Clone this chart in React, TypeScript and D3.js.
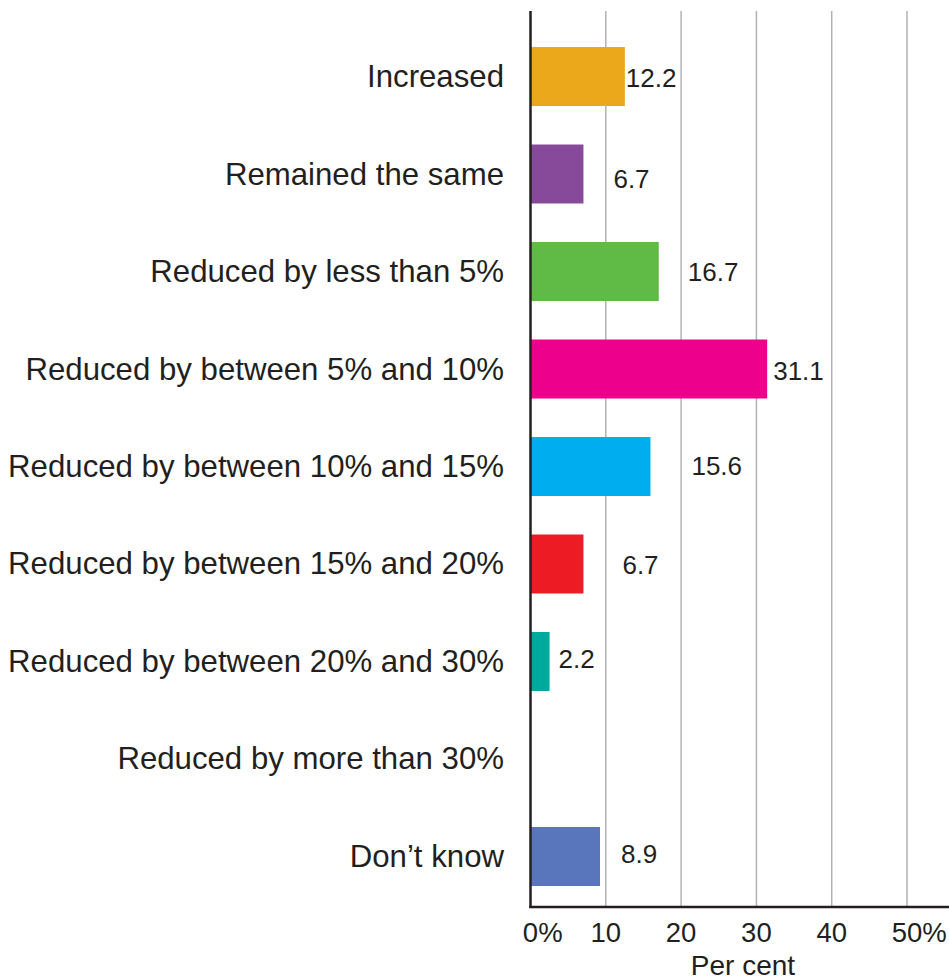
import React from "react";
import * as d3 from "d3";

const categories = [
  "Increased",
  "Remained the same",
  "Reduced by less than 5%",
  "Reduced by between 5% and 10%",
  "Reduced by between 10% and 15%",
  "Reduced by between 15% and 20%",
  "Reduced by between 20% and 30%",
  "Reduced by more than 30%",
  "Don\u2019t know",
];
const values = [12.2, 6.7, 16.7, 31.1, 15.6, 6.7, 2.2, 0, 8.9];
const colors = [
  "#eca81b",
  "#874a9b",
  "#5fba46",
  "#ec008c",
  "#00aeef",
  "#ed1c24",
  "#00a99d",
  "#999999",
  "#5975bb",
];
const tickValues = [0, 10, 20, 30, 40, 50];
const xTitle = "Per cent";
// label nudges (style only)
const labelDx = [1, 30, 29, 6, 41, 39, 9, 0, 21];
const labelDy = [10, 14, 9, 10.5, 8, 10, 6.5, 0, 7];

const W = 949;
const H = 978;
const FONT = "'Liberation Sans', Arial, Helvetica, sans-serif";
const INK = "#231f20";

export default function App() {
  const x = d3.scaleLinear().domain([0, 50]).range([530.5, 907]);
  const y = d3
    .scaleBand<string>()
    .domain(categories)
    .range([8.5, 924.5])
    .paddingInner(0.395)
    .paddingOuter(0.395);
  const axisTop = 11;
  const axisBottom = 907;

  return (
    <svg
      width={W}
      height={H}
      style={{ position: "absolute", left: 0, top: 0, background: "#fff" }}
      fontFamily={FONT}
    >
      {tickValues
        .filter((t) => t > 0)
        .map((t) => (
          <line
            key={"g" + t}
            x1={x(t)}
            x2={x(t)}
            y1={axisTop}
            y2={axisBottom}
            stroke="#b2b2b2"
            strokeWidth={1.5}
          />
        ))}
      {categories.map((c, i) => (
        <rect
          key={"b" + i}
          x={x(0)}
          y={y(c)}
          width={values[i] > 0 ? x(values[i]) - x(0) + 2.5 : 0}
          height={y.bandwidth()}
          fill={colors[i]}
        />
      ))}
      <line x1={x(0)} x2={x(0)} y1={axisTop} y2={axisBottom + 1} stroke={INK} strokeWidth={2.5} />
      <line x1={x(0) - 1.2} x2={W} y1={axisBottom} y2={axisBottom} stroke={INK} strokeWidth={2.5} />
      {categories.map((c, i) => (
        <text
          key={"c" + i}
          x={504}
          y={(y(c) as number) + y.bandwidth() / 2 + 10.5}
          textAnchor="end"
          fontSize={31.2}
          fill={INK}
        >
          {c}
        </text>
      ))}
      {categories.map((c, i) =>
        values[i] > 0 ? (
          <text
            key={"v" + i}
            x={x(values[i]) + 2.5 + labelDx[i]}
            y={(y(c) as number) + y.bandwidth() / 2 + labelDy[i]}
            fontSize={26}
            fill={INK}
          >
            {values[i].toFixed(1)}
          </text>
        ) : null
      )}
      {tickValues.map((t, i) => {
        const s = String(t);
        const fs = 27.5;
        const half = (s.length * 0.556 * fs) / 2;
        const pct = i === 0 || i === tickValues.length - 1;
        return (
          <g key={"t" + t}>
            <text x={x(t)} y={942} textAnchor="middle" fontSize={fs} fill={INK}>
              {s}
            </text>
            {pct ? (
              <text x={x(t) + half} y={942} fontSize={fs} fill={INK}>
                %
              </text>
            ) : null}
          </g>
        );
      })}
      <text x={743} y={975} textAnchor="middle" fontSize={28} fill={INK}>
        {xTitle}
      </text>
    </svg>
  );
}
